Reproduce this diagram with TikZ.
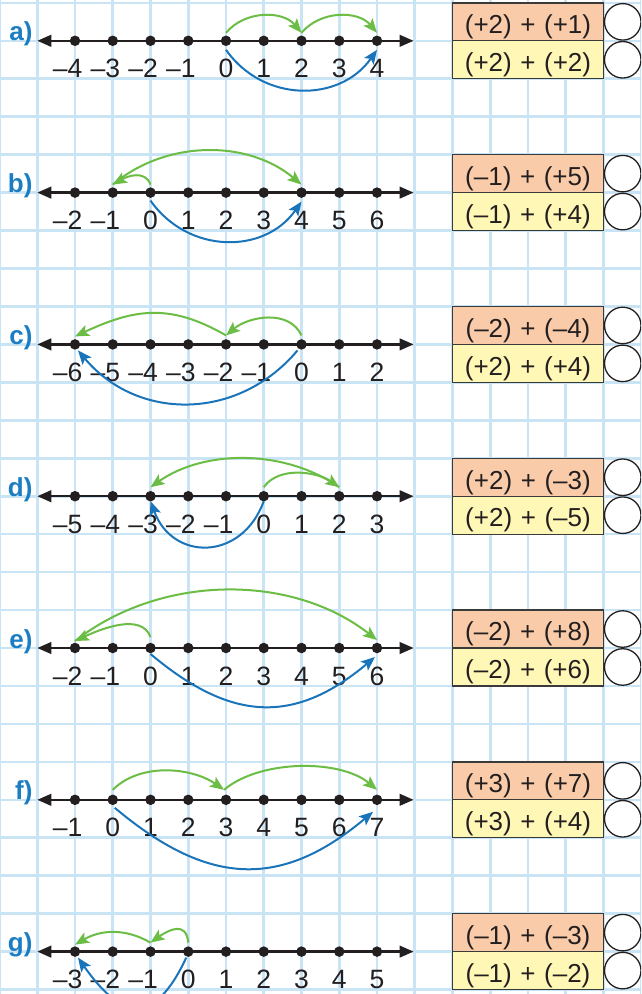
\documentclass[tikz,border=0pt]{standalone}
\usepackage{fontspec}
\setmainfont{Liberation Sans}
\usetikzlibrary{arrows.meta}
\definecolor{gridblue}{HTML}{C9E4F5}
\definecolor{labblue}{HTML}{1C7EC2}
\definecolor{arcblue}{HTML}{1A74BA}
\definecolor{arcgreen}{HTML}{6CBD45}
\definecolor{boxorange}{HTML}{F9CBA8}
\definecolor{boxyellow}{HTML}{FFF7B6}
\definecolor{inkblack}{HTML}{231F20}
\definecolor{boxline}{HTML}{3A3A3A}
\newcommand\negsign{\makebox[0pt][r]{–}}
\newcommand\numline[3]{%
  \node[rowlab] (l#1) at (-0.12,#2) {#1)};
  \coordinate (#1L) at (0,#2);
  \coordinate (#1R) at (9.97,#2);
  \draw[axisline] (#1L) -- (#1R);
  \foreach \t [count=\k] in {#3} {
    \node[dot] (#1\k) at (\k,#2) {};
    \node[num] (n#1\k) at (\k,#2-0.975) {\t};
  }
}
\newcommand\sumboxes[4]{%
  \node[sumbox,fill=boxorange] (s#1t) at (13,#2+0.5) {\raisebox{-11.8pt}[0pt][0pt]{#3}};
  \node[sumbox,fill=boxyellow] (s#1b) at (13,#2-0.5) {\raisebox{-11.8pt}[0pt][0pt]{#4}};
  \node[answer] (c#1t) at (15.51,#2+0.5) {};
  \node[answer] (c#1b) at (15.51,#2-0.5) {};
}
\begin{document}
\begin{tikzpicture}[x=37.75pt,y=37.95pt,
  gridline/.style={draw=gridblue,line width=2.6pt},
  dot/.style={circle,fill=inkblack,inner sep=0pt,minimum size=10.5pt},
  num/.style={anchor=base,inner sep=0pt,font=\fontsize{26.5}{30}\selectfont,text=inkblack},
  rowlab/.style={anchor=base east,inner sep=0pt,font=\fontsize{26}{30}\selectfont\bfseries,text=labblue},
  axisline/.style={draw=inkblack,line width=2.5pt,{Triangle[length=14pt,width=11.5pt]}-{Triangle[length=14pt,width=11.5pt]}},
  garc/.style={draw=arcgreen,line width=2pt,-{Stealth[length=14pt,width=11.5pt,inset=3pt]}},
  barc/.style={draw=arcblue,line width=2pt,-{Stealth[length=14pt,width=11.5pt,inset=3pt]}},
  sumbox/.style={rectangle,draw=boxline,line width=1.3pt,minimum width=151pt,minimum height=37.95pt,inner sep=0pt,
    font={\fontsize{26}{30}\selectfont\spaceskip=0.33em\relax},text=inkblack},
  answer/.style={circle,draw=inkblack,fill=white,line width=1.3pt,minimum size=36.5pt,inner sep=0pt}
]
\useasboundingbox (-0.9868,1.0751) rectangle (15.9934,-25.117);
\clip (-0.9868,1.0751) rectangle (15.9934,-25.117);
\fill[white] (-0.9868,1.0751) rectangle (15.9934,-25.117);
% grid
\foreach \i in {-1,...,16} \draw[gridline] (\i,2) -- (\i,-26);
\foreach \j in {-1,...,26} \draw[gridline] (-2,-\j) -- (17,-\j);

% a)
\numline{a}{0}{\negsign 4,\negsign 3,\negsign 2,\negsign 1,0,1,2,3,4}
\sumboxes{a}{0}{(+2) + (+1)}{(+2) + (+2)}
\draw[garc] ([yshift=8pt]a5.center) to[out=50,in=130] ([yshift=8pt]a7.center);
\draw[garc] ([yshift=8pt]a7.center) to[out=50,in=130] ([yshift=8pt]a9.center);
\draw[barc] ([yshift=-9pt]a5.center) to[out=-55,in=-125,looseness=1.1] ([yshift=-9pt]a9.center);

% b)
\numline{b}{-4}{\negsign 2,\negsign 1,0,1,2,3,4,5,6}
\sumboxes{b}{-4}{(–1) + (+5)}{(–1) + (+4)}
\draw[garc] ([yshift=8pt]b3.center) to[out=110,in=30,looseness=1.1] ([yshift=8pt]b2.center);
\draw[garc] ([yshift=8pt]b2.center) to[out=40,in=140,looseness=0.95] ([yshift=8pt]b7.center);
\draw[barc] ([yshift=-8pt]b3.center) to[out=-55,in=-125,looseness=1.1] ([yshift=-9pt]b7.center);

% c)
\numline{c}{-8}{\negsign 6,\negsign 5,\negsign 4,\negsign 3,\negsign 2,\negsign 1,0,1,2}
\sumboxes{c}{-8}{(–2) + (–4)}{(+2) + (+4)}
\draw[garc] ([yshift=9pt]c7.center) to[out=115,in=40] ([yshift=9pt]c5.center);
\draw[garc] ([yshift=9pt]c5.center) to[out=150,in=25,looseness=1.1] ([yshift=8pt]c1.center);
\draw[barc] ([xshift=-4pt,yshift=-6pt]c7.center) to[out=-130,in=-50,looseness=1.08] ([xshift=3pt,yshift=-6pt]c1.center);

% d)
\numline{d}{-12}{\negsign 5,\negsign 4,\negsign 3,\negsign 2,\negsign 1,0,1,2,3}
\sumboxes{d}{-12}{(+2) + (–3)}{(+2) + (–5)}
\draw[garc] ([yshift=9pt]d6.center) to[out=55,in=145,looseness=0.9] ([yshift=9pt]d8.center);
\draw[garc] ([yshift=9pt]d8.center) to[out=145,in=35,looseness=0.9] ([yshift=9pt]d3.center);
\draw[barc] ([yshift=-5pt]d6.center) to[out=-110,in=-70,looseness=1.45] ([yshift=-5pt]d3.center);

% e)
\numline{e}{-16}{\negsign 2,\negsign 1,0,1,2,3,4,5,6}
\sumboxes{e}{-16}{(–2) + (+8)}{(–2) + (+6)}
\draw[garc] ([yshift=11pt]e3.center) to[out=110,in=25,looseness=0.9] ([yshift=7pt]e1.center);
\draw[garc] ([yshift=7pt]e1.center) to[out=38,in=142,looseness=0.92] ([yshift=8pt]e9.center);
\draw[barc] ([yshift=-6pt]e3.center) to[out=-40,in=-140,looseness=1.2] ([xshift=-2pt,yshift=-9pt]e9.center);

% f)
\numline{f}{-20}{\negsign 1,0,1,2,3,4,5,6,7}
\sumboxes{f}{-20}{(+3) + (+7)}{(+3) + (+4)}
\draw[garc] ([yshift=10pt]f2.center) to[out=45,in=145,looseness=0.9] ([xshift=-2pt,yshift=10pt]f5.center);
\draw[garc] ([xshift=-2pt,yshift=10pt]f5.center) to[out=40,in=140,looseness=0.8] ([yshift=10pt]f9.center);
\draw[barc] ([xshift=2pt,yshift=-8pt]f2.center) to[out=-40,in=-140,looseness=1.2] ([xshift=-4pt,yshift=-12pt]f9.center);

% g)
\numline{g}{-24}{\negsign 3,\negsign 2,\negsign 1,0,1,2,3,4,5}
\sumboxes{g}{-24}{(–1) + (–3)}{(–1) + (–2)}
\draw[garc] ([yshift=9pt]g4.center) to[out=95,in=35,looseness=1.5] ([yshift=9pt]g3.center);
\draw[garc] ([yshift=9pt]g3.center) to[out=150,in=30] ([yshift=7pt]g1.center);
\draw[barc] ([xshift=-2pt,yshift=-6pt]g4.center) to[out=-115,in=-55,looseness=1.8] ([xshift=3pt,yshift=-6pt]g1.center);
\end{tikzpicture}
\end{document}
